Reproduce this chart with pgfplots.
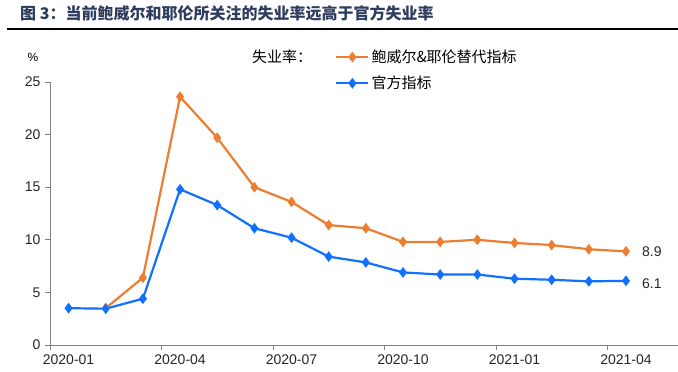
\documentclass[border=0pt]{standalone}
\usepackage{fontspec}
\setmainfont{Liberation Sans}
\newfontfamily\cjk{Noto Sans CJK SC}
\usepackage{pgfplots}
\pgfplotsset{compat=1.18}
\definecolor{cOrange}{HTML}{ED7D31}
\definecolor{cBlue}{HTML}{1270FF}
\definecolor{cTitle}{HTML}{2E3D5E}
\definecolor{cAxis}{HTML}{808080}
\begin{document}
\begin{tikzpicture}
\useasboundingbox (0pt,0pt) rectangle (678pt,372pt);
\node[anchor=west, font=\cjk\bfseries\fontsize{16}{18}\selectfont, text=cTitle, inner sep=0pt] at (20pt,359pt) {图 3：当前鲍威尔和耶伦所关注的失业率远高于官方失业率};
\draw[line width=1.6pt] (7pt,343pt) -- (678pt,343pt);
\node[anchor=west, font=\cjk\fontsize{15}{18}\selectfont, inner sep=0pt] at (252pt,315pt) {失业率：};
\node[anchor=center, font=\fontsize{12}{14}\selectfont, inner sep=0pt] at (33pt,315pt) {\%};
\begin{axis}[
  at={(50pt,27pt)}, anchor=south west, scale only axis,
  width=628pt, height=263pt,
  xmin=-0.5, xmax=16.4, ymin=0, ymax=25,
  axis lines=left, axis line style={cAxis, line width=0.8pt, -},
  tick style={cAxis, line width=0.8pt},
  tick align=outside,
  major tick length=5pt,
  ytick={0,5,...,25},
  xtick={0,3,6,9,12,15},
  xticklabels={2020-01,2020-04,2020-07,2020-10,2021-01,2021-04},
  major x tick style={draw=none},
  extra x ticks={-0.5,2.5,5.5,8.5,11.5,14.5},
  extra x tick labels={},
  extra x tick style={major x tick style={draw=cAxis}},
  /pgf/number format/assume math mode=true,
  ticklabel style={font=\fontsize{14}{16}\selectfont, text=black!85},
  xticklabel style={yshift=-1pt},
  yticklabel style={xshift=-1pt},
  legend style={draw=none, fill=none, anchor=north west, at={(0.454,1.13)},
    font=\cjk\fontsize{15}{18}\selectfont, inner sep=0pt, row sep=8pt,
    /tikz/every even column/.append style={column sep=4pt}},
  legend cell align=left,
  legend image code/.code={\draw[mark repeat=2,mark phase=2] plot coordinates {(0pt,0pt) (16pt,0pt) (32pt,0pt)};},
  clip=false,
]
\addplot[cOrange, line width=2.2pt, mark=diamond*, mark size=3.6pt, mark options={solid}] coordinates {
 (1,3.5) (2,6.4) (3,23.6) (4,19.7) (5,15.0) (6,13.6) (7,11.4) (8,11.1)
 (9,9.8) (10,9.8) (11,10.0) (12,9.7) (13,9.5) (14,9.1) (15,8.9)};
\addlegendentry{鲍威尔\&耶伦替代指标}
\addplot[cBlue, line width=2.2pt, mark=diamond*, mark size=3.6pt, mark options={solid}] coordinates {
 (0,3.5) (1,3.45) (2,4.4) (3,14.8) (4,13.3) (5,11.1) (6,10.2) (7,8.4) (8,7.85)
 (9,6.9) (10,6.7) (11,6.7) (12,6.3) (13,6.2) (14,6.05) (15,6.1)};
\addlegendentry{官方指标}
\node[anchor=west, font=\fontsize{14}{16}\selectfont, text=black!85, inner sep=0pt] at (axis cs:15,8.9) [xshift=16pt] {8.9};
\node[anchor=west, font=\fontsize{14}{16}\selectfont, text=black!85, inner sep=0pt] at (axis cs:15,6.1) [xshift=16pt, yshift=-3pt] {6.1};
\end{axis}
\end{tikzpicture}
\end{document}
